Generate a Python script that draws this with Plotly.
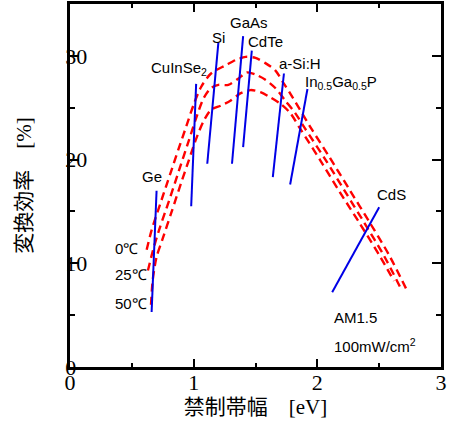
import plotly.graph_objects as go

# ---- data ----
# efficiency curves (band gap [eV], efficiency [%])
x_0C = [0.62, 0.66, 0.74, 0.81, 0.88, 0.94, 1.00, 1.06, 1.14, 1.26, 1.34, 1.42, 1.50, 1.58, 1.66, 1.72, 1.80, 1.86, 1.94, 2.10, 2.26, 2.42, 2.58, 2.72]
y_0C = [11.3, 13.2, 16.1, 18.6, 21.1, 23.2, 25.3, 27.0, 28.3, 29.1, 29.6, 29.9, 29.8, 29.3, 28.6, 27.5, 26.0, 24.8, 23.2, 20.2, 17.1, 14.0, 10.8, 7.5]

x_25C = [0.63, 0.67, 0.72, 0.80, 0.88, 0.96, 1.02, 1.08, 1.14, 1.20, 1.28, 1.36, 1.43, 1.50, 1.58, 1.66, 1.74, 1.82, 1.90, 2.06, 2.22, 2.38, 2.54, 2.67]
y_25C = [9.3, 11.2, 13.2, 16.0, 18.9, 21.8, 24.0, 25.9, 26.9, 27.2, 27.2, 27.8, 28.4, 28.2, 27.7, 26.9, 25.7, 24.5, 23.0, 20.1, 17.0, 13.9, 10.7, 7.7]

x_50C = [0.655, 0.67, 0.70, 0.75, 0.82, 0.90, 0.96, 1.02, 1.08, 1.14, 1.22, 1.30, 1.38, 1.46, 1.54, 1.62, 1.70, 1.78, 1.86, 2.02, 2.18, 2.34, 2.50, 2.62]
y_50C = [6.0, 8.5, 10.6, 12.4, 14.9, 17.8, 19.9, 22.0, 23.7, 24.8, 25.2, 25.7, 26.4, 26.7, 26.5, 26.0, 25.4, 24.5, 23.0, 20.0, 16.9, 13.9, 10.8, 8.3]

# material segments (x start, y start, x end, y end)
materials = ["Ge", "CuInSe2", "Si", "GaAs", "CdTe", "a-Si:H", "InGaP", "CdS"]
seg_x0 = [0.66, 0.98, 1.11, 1.31, 1.40, 1.64, 1.78, 2.12]
seg_y0 = [5.3, 15.5, 19.6, 19.6, 21.2, 18.3, 17.6, 7.2]
seg_x1 = [0.70, 1.02, 1.20, 1.40, 1.47, 1.73, 1.92, 2.50]
seg_y1 = [17.0, 27.3, 31.3, 31.9, 30.5, 28.3, 26.8, 15.4]

# labels
label_text = ["Ge", "CuInSe<sub>2</sub>", "Si", "GaAs", "CdTe", "a-Si:H",
              "In<sub>0.5</sub>Ga<sub>0.5</sub>P", "CdS"]
label_x = [0.66, 0.88, 1.20, 1.45, 1.58, 1.86, 2.19, 2.60]
label_y = [18.4, 28.8, 31.8, 33.2, 31.4, 29.3, 27.4, 16.6]

temp_text = ["0℃", "25℃", "50℃"]
temp_x = [0.35, 0.35, 0.35]
temp_y = [11.4, 8.9, 6.1]

cond_text = ["AM1.5", "100mW/cm<sup>2</sup>"]
cond_x = [2.12, 2.12]
cond_y = [4.8, 2.1]

x_ticks = [0, 1, 2, 3]
y_ticks = [0, 10, 20, 30]

# ---- figure ----
fig = go.Figure()
red = "#ff0000"
blue = "#0000e6"
for xs, ys in [(x_0C, y_0C), (x_25C, y_25C), (x_50C, y_50C)]:
    fig.add_trace(go.Scatter(x=xs, y=ys, mode="lines",
                             line=dict(color=red, width=2.4, dash="8px,5px", shape="spline", smoothing=0.8),
                             hoverinfo="skip", showlegend=False))

for i in range(len(materials)):
    fig.add_trace(go.Scatter(x=[seg_x0[i], seg_x1[i]], y=[seg_y0[i], seg_y1[i]], mode="lines",
                             line=dict(color=blue, width=2), name=materials[i], showlegend=False))

sans = "Liberation Sans, Arial, sans-serif"
for t, x, y in zip(label_text, label_x, label_y):
    fig.add_annotation(x=x, y=y, text=t, showarrow=False, xanchor="center", yanchor="middle",
                       font=dict(family=sans, size=15, color="black"))
for t, x, y in zip(temp_text, temp_x, temp_y):
    fig.add_annotation(x=x, y=y, text=t, showarrow=False, xanchor="left", yanchor="middle",
                       font=dict(family=sans, size=15, color="black"))
for t, x, y in zip(cond_text, cond_x, cond_y):
    fig.add_annotation(x=x, y=y, text=t, showarrow=False, xanchor="left", yanchor="middle",
                       font=dict(family=sans, size=15, color="black"))

serif = "Liberation Serif, Times New Roman, serif"
title_font = dict(family="Liberation Serif, Noto Sans CJK JP, serif", size=21, color="black")
axis_common = dict(showline=True, linecolor="black", linewidth=2.5, mirror="allticks",
                   ticks="inside", tickcolor="black", tickwidth=1.5, showgrid=False, zeroline=False,
                   automargin=False, ticklabeloverflow="allow",
                   tickfont=dict(family=serif, size=22, color="black"))

fig.update_xaxes(range=[0, 3], tickvals=x_ticks, ticklen=8, ticklabelstandoff=-6,
                 minor=dict(dtick=0.5, ticklen=4, ticks="inside", tickcolor="black", tickwidth=1.5, showgrid=False),
                 title=dict(text="禁制帯幅　[eV]", font=title_font, standoff=0),
                 **axis_common)
fig.update_yaxes(range=[0, 35], tickvals=y_ticks, ticklen=9,
                 minor=dict(dtick=5, ticklen=5, ticks="inside", tickcolor="black", tickwidth=1.5, showgrid=False),
                 ticklabelposition="inside", ticklabelstandoff=-12,
                 title=dict(text="変換効率　[%]", font=title_font, standoff=28),
                 **axis_common)

fig.update_layout(width=449, height=422, margin=dict(l=70, r=8, t=4, b=55),
                  plot_bgcolor="white", paper_bgcolor="white")

fig.write_html("out.html", config={"displayModeBar": False},
               post_script="document.body.style.margin='0';document.body.style.overflow='hidden';")
